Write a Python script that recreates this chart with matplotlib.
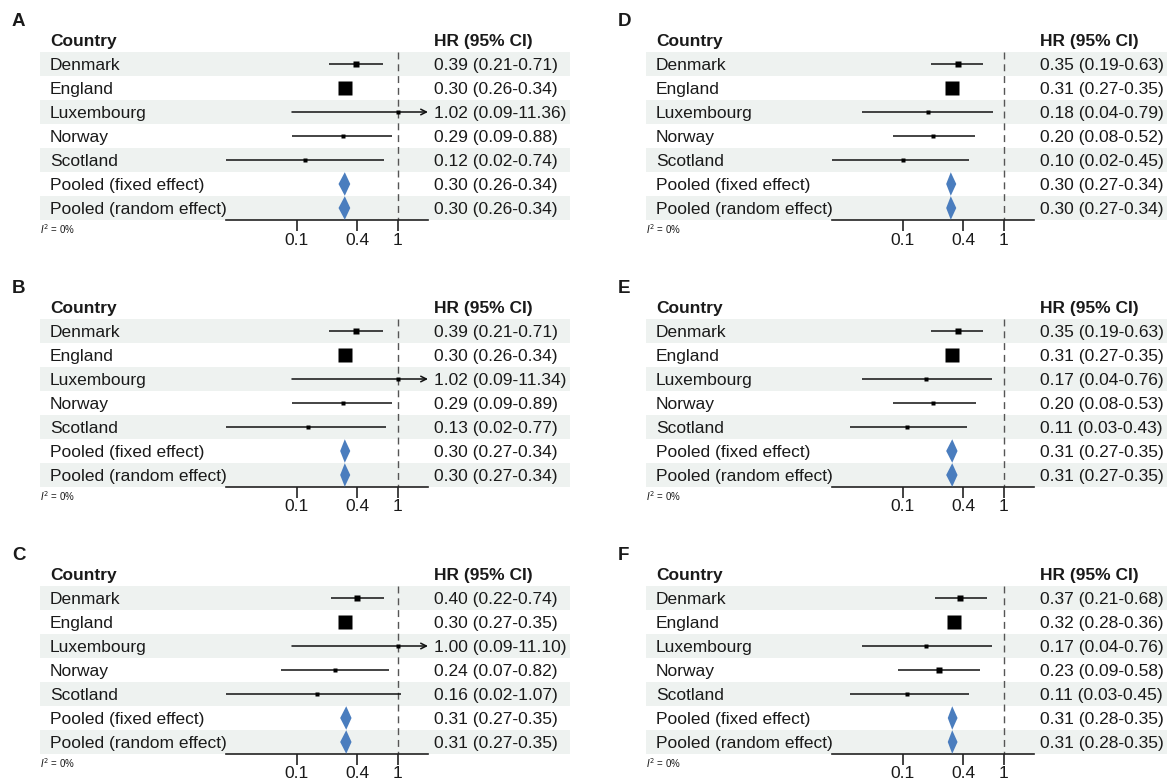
import numpy as np
import matplotlib
matplotlib.use("Agg")
import matplotlib.pyplot as plt
from matplotlib.patches import Rectangle, Polygon
from matplotlib.transforms import blended_transform_factory

plt.rcParams['font.family'] = ['Liberation Sans', 'DejaVu Sans']

countries = ["Denmark", "England", "Luxembourg", "Norway", "Scotland",
             "Pooled (fixed effect)", "Pooled (random effect)"]
panel_labels = ["A", "B", "C", "D", "E", "F"]
xticks = [0.1, 0.4, 1]
xtick_labels = ["0.1", "0.4", "1"]
i2_text = "0%"

A_hr = [0.39, 0.30, 1.02, 0.29, 0.12, 0.30, 0.30]
A_lo = [0.21, 0.26, 0.09, 0.09, 0.02, 0.26, 0.26]
A_hi = [0.71, 0.34, 11.36, 0.88, 0.74, 0.34, 0.34]

B_hr = [0.39, 0.30, 1.02, 0.29, 0.13, 0.30, 0.30]
B_lo = [0.21, 0.26, 0.09, 0.09, 0.02, 0.27, 0.27]
B_hi = [0.71, 0.34, 11.34, 0.89, 0.77, 0.34, 0.34]

C_hr = [0.40, 0.30, 1.00, 0.24, 0.16, 0.31, 0.31]
C_lo = [0.22, 0.27, 0.09, 0.07, 0.02, 0.27, 0.27]
C_hi = [0.74, 0.35, 11.10, 0.82, 1.07, 0.35, 0.35]

D_hr = [0.35, 0.31, 0.18, 0.20, 0.10, 0.30, 0.30]
D_lo = [0.19, 0.27, 0.04, 0.08, 0.02, 0.27, 0.27]
D_hi = [0.63, 0.35, 0.79, 0.52, 0.45, 0.34, 0.34]

E_hr = [0.35, 0.31, 0.17, 0.20, 0.11, 0.31, 0.31]
E_lo = [0.19, 0.27, 0.04, 0.08, 0.03, 0.27, 0.27]
E_hi = [0.63, 0.35, 0.76, 0.53, 0.43, 0.35, 0.35]

F_hr = [0.37, 0.32, 0.17, 0.23, 0.11, 0.31, 0.31]
F_lo = [0.21, 0.28, 0.04, 0.09, 0.03, 0.28, 0.28]
F_hi = [0.68, 0.36, 0.76, 0.58, 0.45, 0.35, 0.35]

panels = {
    "A": (A_hr, A_lo, A_hi), "B": (B_hr, B_lo, B_hi), "C": (C_hr, C_lo, C_hi),
    "D": (D_hr, D_lo, D_hi), "E": (E_hr, E_lo, E_hi), "F": (F_hr, F_lo, F_hi),
}

W, H = 1167, 783
fig = plt.figure(figsize=(W / 100, H / 100), dpi=100)

XMIN, XMAX = 0.02, 2.0
FS = 12.5
TXT = "#1a1a1a"
STRIPE = "#EEF2F0"
DIAMOND = "#4A7DBE"
n_study = 5

for idx, lab in enumerate(panel_labels):
    col = idx // 3
    rowp = idx % 3
    x0 = 606 * col
    y0 = 267 * rowp
    ax_left, ax_right = 226 + x0, 428 + x0
    ax_bottom_px = 220 + y0
    ax_h = 168
    ax = fig.add_axes([ax_left / W, 1 - ax_bottom_px / H, (ax_right - ax_left) / W, ax_h / H])
    ax.set_facecolor("none")
    ax.set_xscale("log")
    ax.set_xlim(XMIN, XMAX)
    ax.set_ylim(6.5, -0.5)
    for s in ["top", "right", "left"]:
        ax.spines[s].set_visible(False)
    ax.spines["bottom"].set_linewidth(1.2)
    ax.spines["bottom"].set_color("#222222")
    ax.set_yticks([])
    ax.set_xticks(xticks)
    ax.set_xticklabels(xtick_labels, fontsize=FS, color=TXT)
    ax.minorticks_off()
    ax.tick_params(axis="x", length=8, width=1.2, color="#222222", pad=1)

    tr = blended_transform_factory(fig.transFigure, ax.transData)
    hr, lo, hi = panels[lab]

    # stripes
    for r in range(0, len(countries), 2):
        ax.add_patch(Rectangle(((40 + x0) / W, r - 0.5), 530 / W, 1.0, transform=tr,
                               facecolor=STRIPE, edgecolor="none", zorder=0, clip_on=False))

    # headers
    ax.text((50 + x0) / W, -1, "Country", transform=tr, fontsize=FS, fontweight="bold",
            va="center_baseline", ha="left", color=TXT, clip_on=False)
    ax.text((434 + x0) / W, -1, "HR (95% CI)", transform=tr, fontsize=FS, fontweight="bold",
            va="center_baseline", ha="left", color=TXT, clip_on=False)
    ax.text((12 + x0) / W, -1.85, lab, transform=tr, fontsize=13.5, fontweight="bold",
            va="center_baseline", ha="left", color=TXT, clip_on=False)
    ax.text((40 + x0) / W, 6.85, r"$I^2$ = " + i2_text, transform=tr, fontsize=7,
            va="center_baseline", ha="left", color=TXT, clip_on=False)

    # reference line
    ax.plot([1, 1], [-0.5, 6.5], color="#555555", lw=1.0, ls=(0, (5, 3.5)), zorder=1)

    for r, name in enumerate(countries):
        ax.text((50 + x0) / W, r, name, transform=tr, fontsize=FS, va="center_baseline",
                ha="left", color=TXT, clip_on=False)
        ax.text((434 + x0) / W, r, f"{hr[r]:.2f} ({lo[r]:.2f}-{hi[r]:.2f})", transform=tr,
                fontsize=FS, va="center_baseline", ha="left", color=TXT, clip_on=False)
        if r < n_study:
            l = max(lo[r], XMIN)
            h = min(hi[r], XMAX)
            if hi[r] > XMAX:
                ax.annotate("", xy=(XMAX, r), xytext=(l, r), xycoords="data",
                            arrowprops=dict(arrowstyle="->", lw=1.1, color="#111111",
                                            shrinkA=0, shrinkB=0, mutation_scale=10),
                            annotation_clip=False, zorder=3)
            else:
                ax.plot([l, h], [r, r], color="#111111", lw=1.1, zorder=3,
                        solid_capstyle="butt")
            se = (np.log(hi[r]) - np.log(lo[r])) / (2 * 1.96)
            side_px = 3.45 / np.sqrt(se)
            ax.plot([hr[r]], [r], marker="s", ms=side_px * 0.72, color="black",
                    mec="none", zorder=4, clip_on=False)
        else:
            hh = 0.49
            ax.add_patch(Polygon([(lo[r], r), (hr[r], r - hh), (hi[r], r), (hr[r], r + hh)],
                                 closed=True, facecolor=DIAMOND, edgecolor="none", zorder=4))

fig.savefig("out.png", dpi=100)
